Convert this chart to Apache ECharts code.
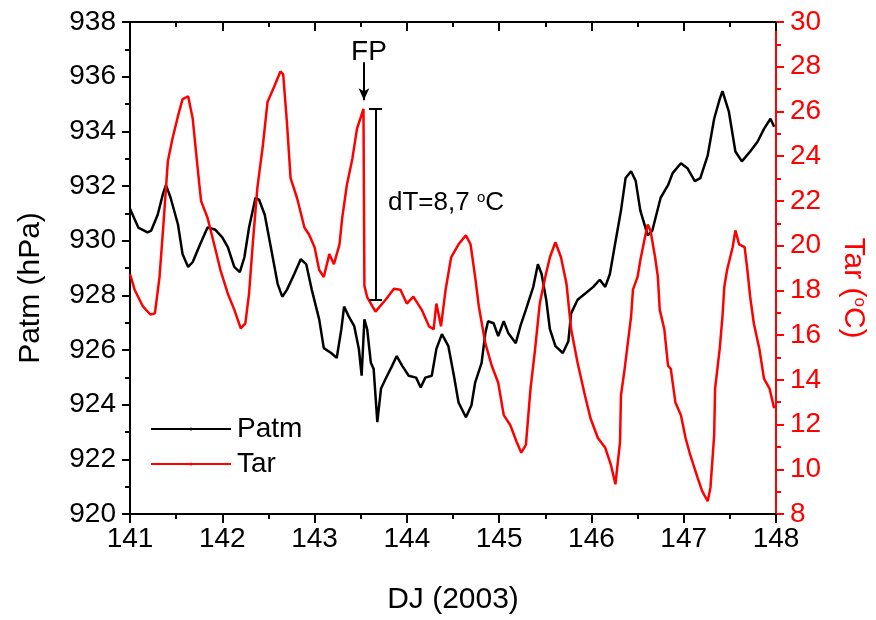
<!DOCTYPE html>
<html>
<head>
<meta charset="utf-8">
<script src="https://cdn.jsdelivr.net/npm/echarts@6/dist/echarts.min.js"></script>
<style>
html, body { margin: 0; padding: 0; background: #fff; }
#chart { width: 876px; height: 620px; }
</style>
</head>
<body>
<div id="chart"></div>
<script>
// Patm (hPa) against day of year
var patmDays = [141.00, 141.09, 141.19, 141.23, 141.30, 141.36, 141.39, 141.44, 141.52, 141.57, 141.63, 141.68, 141.76, 141.84, 141.92,
    142.00, 142.06, 142.13, 142.19, 142.24, 142.29, 142.36, 142.40, 142.46, 142.52, 142.60, 142.65, 142.70, 142.78, 142.85, 142.91, 142.97,
    143.05, 143.10, 143.18, 143.24, 143.29, 143.32, 143.37, 143.43, 143.48, 143.51, 143.54, 143.57, 143.61, 143.64, 143.68, 143.72, 143.77, 143.84, 143.89, 143.95,
    144.02, 144.10, 144.15, 144.20, 144.27, 144.32, 144.38, 144.45, 144.51, 144.56, 144.64, 144.70, 144.74, 144.81, 144.85, 144.88, 144.94, 144.99,
    145.05, 145.10, 145.18, 145.23, 145.29, 145.37, 145.42, 145.46, 145.51, 145.55, 145.61, 145.69, 145.75, 145.78, 145.85, 145.93,
    146.02, 146.09, 146.15, 146.20, 146.25, 146.32, 146.37, 146.43, 146.48, 146.53, 146.61, 146.66, 146.75, 146.83, 146.88, 146.97,
    147.04, 147.12, 147.18, 147.26, 147.33, 147.39, 147.42, 147.49, 147.56, 147.63, 147.72, 147.80, 147.87, 147.94, 147.98];
var patmValues = [931.17, 930.48, 930.30, 930.37, 930.95, 931.75, 932.03, 931.57, 930.59, 929.50, 929.04, 929.22, 929.87, 930.48, 930.41,
    930.12, 929.76, 929.04, 928.85, 929.40, 930.48, 931.57, 931.49, 930.95, 929.87, 928.42, 927.95, 928.20, 928.78, 929.32, 929.14, 928.20,
    927.12, 926.07, 925.89, 925.71, 926.76, 927.59, 927.23, 926.87, 926.04, 925.06, 927.12, 926.76, 925.53, 925.31, 923.36, 924.59, 924.95, 925.42, 925.78, 925.42,
    925.06, 924.99, 924.63, 924.99, 925.06, 926.04, 926.58, 926.14, 925.06, 924.08, 923.54, 923.98, 924.81, 925.53, 926.61, 927.05, 926.98, 926.51,
    927.05, 926.61, 926.25, 926.87, 927.48, 928.31, 929.14, 928.78, 927.84, 926.76, 926.14, 925.89, 926.32, 927.34, 927.84, 928.06,
    928.31, 928.57, 928.31, 928.78, 929.76, 931.10, 932.29, 932.54, 932.18, 931.10, 930.19, 930.37, 931.57, 932.03, 932.47, 932.83,
    932.65, 932.18, 932.29, 933.12, 934.46, 935.18, 935.47, 934.71, 933.26, 932.90, 933.26, 933.62, 934.09, 934.46, 934.17];

// Tar (°C) against day of year
var tarDays = [141.00, 141.05, 141.14, 141.22, 141.27, 141.32, 141.36, 141.41, 141.46, 141.52, 141.57, 141.63, 141.68, 141.73, 141.77, 141.84, 141.92, 141.98,
    142.06, 142.13, 142.20, 142.25, 142.29, 142.33, 142.38, 142.44, 142.49, 142.56, 142.63, 142.66, 142.70, 142.74, 142.81, 142.89, 142.94,
    143.00, 143.05, 143.10, 143.16, 143.21, 143.27, 143.30, 143.35, 143.41, 143.46, 143.53, 143.54, 143.57, 143.66, 143.77, 143.86, 143.93,
    144.00, 144.07, 144.16, 144.24, 144.29, 144.32, 144.37, 144.42, 144.48, 144.56, 144.64, 144.69, 144.74, 144.78, 144.85, 144.92, 144.99,
    145.05, 145.12, 145.19, 145.24, 145.29, 145.34, 145.39, 145.44, 145.50, 145.55, 145.61, 145.67, 145.73, 145.78, 145.85, 145.93, 145.99,
    146.07, 146.15, 146.21, 146.26, 146.31, 146.32, 146.36, 146.39, 146.43, 146.45, 146.50, 146.53, 146.58, 146.61, 146.64, 146.69, 146.72, 146.74, 146.79, 146.83, 146.86, 146.91, 146.97,
    147.02, 147.07, 147.15, 147.20, 147.26, 147.29, 147.33, 147.34, 147.39, 147.42, 147.44, 147.47, 147.53, 147.56, 147.60, 147.66, 147.69, 147.72, 147.76, 147.82, 147.87, 147.93, 147.98];
var tarValues = [18.73, 18.03, 17.28, 16.92, 16.97, 18.60, 20.81, 23.77, 24.78, 25.80, 26.55, 26.68, 25.67, 23.59, 22.00, 21.25, 19.93, 18.91,
    17.85, 17.14, 16.30, 16.52, 17.85, 20.06, 22.58, 24.48, 26.42, 27.08, 27.79, 27.66, 25.54, 23.02, 22.13, 20.81, 20.50,
    19.93, 18.91, 18.60, 19.62, 19.17, 20.06, 21.25, 22.71, 23.90, 25.23, 26.11, 18.20, 17.70, 17.05, 17.58, 18.07, 18.03,
    17.41, 17.72, 17.14, 16.39, 16.26, 17.41, 16.39, 18.03, 19.48, 20.06, 20.46, 20.06, 18.60, 17.28, 15.64, 14.63, 13.87,
    12.42, 11.98, 11.22, 10.74, 11.09, 13.61, 15.38, 17.41, 18.60, 19.48, 20.15, 19.48, 18.29, 16.26, 14.76, 13.30, 12.28,
    11.40, 10.96, 10.21, 9.33, 11.22, 13.30, 14.49, 15.51, 16.83, 18.03, 18.60, 19.35, 20.37, 20.94, 20.68, 19.48, 18.60, 17.14, 16.26, 14.63, 14.49, 12.99, 12.42,
    11.40, 10.65, 9.63, 9.02, 8.57, 9.19, 11.53, 13.61, 15.38, 16.83, 18.16, 18.91, 19.93, 20.68, 20.06, 19.93, 18.91, 17.72, 16.52, 15.38, 14.05, 13.61, 12.73];

var font = 'Liberation Sans, Arial, sans-serif';

function pairs(xs, ys) {
    var out = [];
    for (var i = 0; i < xs.length; i++) {
        out.push([xs[i], ys[i]]);
    }
    return out;
}

var chart = echarts.init(document.getElementById('chart'));

var option = {
    animation: false,
    backgroundColor: '#fff',
    textStyle: { fontFamily: font },
    grid: { left: 130, right: 97, top: 22, bottom: 100 },
    legend: {
        data: ['Patm', 'Tar'],
        orient: 'vertical',
        left: 145,
        top: 410,
        itemWidth: 80,
        itemHeight: 4,
        itemGap: 7,
        textStyle: { fontSize: 28, color: '#000', fontFamily: font, padding: [0, 0, 0, 1] }
    },
    xAxis: [
        {
            type: 'value',
            position: 'bottom',
            min: 141,
            max: 148,
            interval: 1,
            name: 'DJ (2003)',
            nameLocation: 'middle',
            nameGap: 71,
            nameTextStyle: { fontSize: 30, color: '#000', fontFamily: font },
            axisLine: { lineStyle: { color: '#000', width: 2 } },
            axisTick: { inside: false, length: 9, lineStyle: { color: '#000', width: 2 } },
            minorTick: { show: true, splitNumber: 2, length: 5, lineStyle: { color: '#000', width: 2 } },
            axisLabel: { fontSize: 28, color: '#000', margin: 11, fontFamily: font },
            splitLine: { show: false }
        },
        {
            type: 'value',
            position: 'top',
            min: 141,
            max: 148,
            interval: 1,
            axisLine: { lineStyle: { color: '#000', width: 2 } },
            axisTick: { inside: true, length: 9, lineStyle: { color: '#000', width: 2 } },
            minorTick: { show: true, splitNumber: 2, length: 5, lineStyle: { color: '#000', width: 2 } },
            axisLabel: { show: false },
            splitLine: { show: false }
        }
    ],
    yAxis: [
        {
            type: 'value',
            position: 'left',
            min: 920,
            max: 938,
            interval: 2,
            name: 'Patm (hPa)',
            nameLocation: 'middle',
            nameRotate: 90,
            nameGap: 84,
            nameTextStyle: { fontSize: 30, color: '#000', fontFamily: font, padding: [0, 40, 0, 0] },
            axisLine: { show: true, lineStyle: { color: '#000', width: 2 } },
            axisTick: { show: true, inside: false, length: 8, lineStyle: { color: '#000', width: 2 } },
            minorTick: { show: true, splitNumber: 2, length: 5, lineStyle: { color: '#000', width: 2 } },
            axisLabel: { fontSize: 28, color: '#000', margin: 14, fontFamily: font },
            splitLine: { show: false }
        },
        {
            type: 'value',
            position: 'right',
            min: 8,
            max: 30,
            interval: 2,
            name: 'Tar ({s|o}C)',
            nameLocation: 'middle',
            nameRotate: -90,
            nameGap: 62,
            nameTextStyle: {
                fontSize: 30, color: '#f00', fontFamily: font, padding: [0, 0, 0, 40],
                rich: { s: { fontSize: 17, color: '#f00', fontFamily: font, verticalAlign: 'top' } }
            },
            axisLine: { show: true, lineStyle: { color: '#f00', width: 2 } },
            axisTick: { show: true, inside: false, length: 8, lineStyle: { color: '#f00', width: 2 } },
            minorTick: { show: true, splitNumber: 2, length: 5, lineStyle: { color: '#f00', width: 2 } },
            axisLabel: { fontSize: 28, color: '#f00', margin: 14, fontFamily: font },
            splitLine: { show: false }
        }
    ],
    series: [
        {
            name: 'Patm',
            type: 'line',
            xAxisIndex: 0,
            yAxisIndex: 0,
            symbol: 'circle',
            symbolSize: 4,
            showSymbol: false,
            lineStyle: { color: '#000', width: 2.5 },
            itemStyle: { color: '#000' },
            data: pairs(patmDays, patmValues)
        },
        {
            name: 'Tar',
            type: 'line',
            xAxisIndex: 0,
            yAxisIndex: 1,
            symbol: 'circle',
            symbolSize: 4,
            showSymbol: false,
            lineStyle: { color: '#f00', width: 2.5 },
            itemStyle: { color: '#f00' },
            data: pairs(tarDays, tarValues),
            markLine: {
                silent: true,
                symbol: ['none', 'none'],
                label: { show: false },
                lineStyle: { color: '#000', width: 2, type: 'solid' },
                data: [
                    // FP arrow
                    [{ coord: [143.535, 28.2], symbol: 'none' }, { coord: [143.535, 26.5], symbol: 'arrow', symbolSize: [8, 12] }],
                    // dT bracket
                    [{ coord: [143.662, 26.1] }, { coord: [143.662, 17.6] }],
                    [{ coord: [143.59, 26.1] }, { coord: [143.73, 26.1] }],
                    [{ coord: [143.59, 17.6] }, { coord: [143.73, 17.6] }]
                ]
            }
        }
    ],
    graphic: [
        {
            type: 'text',
            x: 369,
            y: 52,
            style: { text: 'FP', fontSize: 28, fontFamily: font, fill: '#000', align: 'center', verticalAlign: 'middle' }
        },
        {
            type: 'text',
            x: 388,
            y: 203,
            style: {
                text: 'dT=8,7 {s|o}C',
                fontSize: 26,
                fontFamily: font,
                fill: '#000',
                align: 'left',
                verticalAlign: 'middle',
                rich: { s: { fontSize: 15, fontFamily: font, fill: '#000', verticalAlign: 'top' } }
            }
        }
    ]
};

chart.setOption(option);
</script>
</body>
</html>
